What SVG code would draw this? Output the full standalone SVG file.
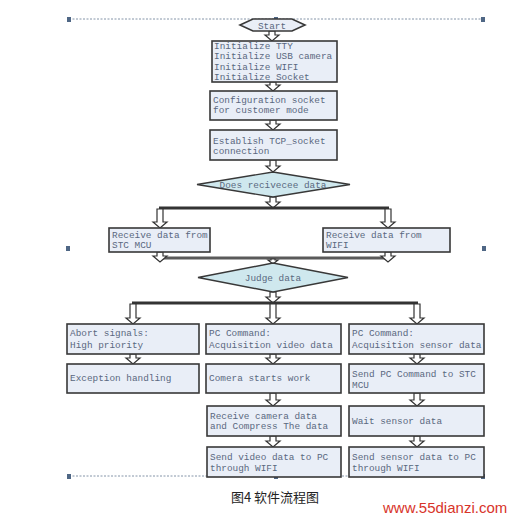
<svg xmlns="http://www.w3.org/2000/svg" width="518" height="519" viewBox="0 0 518 519">
<style>
.frame{stroke:#8494a8;stroke-width:1;stroke-dasharray:2,1.5;fill:none}
.hd{fill:#4f6785}
.box{fill:#e9eef7;stroke:#383838;stroke-width:1.6}
.dia{fill:#cfe8ee;stroke:#383838;stroke-width:1.4}
.t{font-family:"Liberation Mono","DejaVu Sans Mono",monospace;font-size:9.4px;fill:#5a6880}
.tc{font-family:"Liberation Mono","DejaVu Sans Mono",monospace;font-size:9.4px;fill:#5a6880;text-anchor:middle}
.ha{fill:#fff;stroke:#333;stroke-width:1.2}
.bar{stroke:#333;stroke-width:3;fill:none}
.bar2{stroke:#5a5a5a;stroke-width:3;fill:none}
.cap{font-family:"Noto Sans CJK SC","Liberation Sans",sans-serif;font-size:13px;fill:#222;text-anchor:middle}
.wm{font-family:"Liberation Sans",Arial,sans-serif;font-size:15px;fill:#d8342a}
</style>
<rect width="518" height="519" fill="#fff"/>
<g id="frame">
<line class="frame" x1="69" y1="19" x2="484" y2="19"/>
<line class="frame" x1="69" y1="476" x2="484" y2="476"/>
<rect class="hd" x="67" y="17" width="4" height="5"/>
<rect class="hd" x="274" y="17" width="4" height="5"/>
<rect class="hd" x="481" y="17" width="4" height="5"/>
<rect class="hd" x="66" y="246" width="4" height="5"/>
<rect class="hd" x="482" y="246" width="4" height="5"/>
<rect class="hd" x="67" y="474" width="4" height="5"/>
<rect class="hd" x="274" y="474" width="4" height="5"/>
<rect class="hd" x="481" y="474" width="4" height="5"/>
</g>
<g id="connectors">
<path class="ha" d="M269,31 L275,31 L275,35 L279,35 L272,41 L265,35 L269,35 Z"/>
<path class="ha" d="M270,82 L276,82 L276,85 L280,85 L273,91 L266,85 L270,85 Z"/>
<path class="ha" d="M270,120 L276,120 L276,124 L280,124 L273,130 L266,124 L270,124 Z"/>
<path class="ha" d="M270,160 L276,160 L276,166 L280,166 L273,172 L266,166 L270,166 Z"/>
<path class="ha" d="M270,197 L276,197 L276,202 L280,202 L273,208 L266,202 L270,202 Z"/>
<path class="bar" d="M159,208 L389,208"/>
<path class="ha" d="M157,209 L163,209 L163,222 L167,222 L160,228 L153,222 L157,222 Z"/>
<path class="ha" d="M385,209 L391,209 L391,222 L395,222 L388,228 L381,222 L385,222 Z"/>
<path class="bar2" d="M159,258 L389,258"/>
<path class="ha" d="M157,252 L163,252 L163,256 L167,256 L160,262 L153,256 L157,256 Z"/>
<path class="ha" d="M385,252 L391,252 L391,256 L395,256 L388,262 L381,256 L385,256 Z"/>
<path class="ha" d="M271,259 L275,259 L275,260 L278,260 L273,264 L268,260 L271,260 Z"/>
<path class="ha" d="M270,292 L276,292 L276,297 L280,297 L273,303 L266,297 L270,297 Z"/>
<path class="bar" d="M132,303 L418,303"/>
<path class="ha" d="M130,304 L136,304 L136,318 L140,318 L133,324 L126,318 L130,318 Z"/>
<path class="ha" d="M270,304 L276,304 L276,318 L280,318 L273,324 L266,318 L270,318 Z"/>
<path class="ha" d="M414,304 L420,304 L420,318 L424,318 L417,324 L410,318 L414,318 Z"/>
<path class="ha" d="M130,354 L136,354 L136,358 L140,358 L133,364 L126,358 L130,358 Z"/>
<path class="ha" d="M270,354 L276,354 L276,358 L280,358 L273,364 L266,358 L270,358 Z"/>
<path class="ha" d="M414,354 L420,354 L420,358 L424,358 L417,364 L410,358 L414,358 Z"/>
<path class="ha" d="M270,393 L276,393 L276,400 L280,400 L273,406 L266,400 L270,400 Z"/>
<path class="ha" d="M414,393 L420,393 L420,400 L424,400 L417,406 L410,400 L414,400 Z"/>
<path class="ha" d="M270,436 L276,436 L276,441 L280,441 L273,447 L266,441 L270,441 Z"/>
<path class="ha" d="M414,436 L420,436 L420,441 L424,441 L417,447 L410,441 L414,441 Z"/>
</g>
<g id="start">
<polygon class="box" points="240,25 253,19 292,19 305,25 292,31 253,31"/>
<text class="tc" x="272" y="28.5">Start</text>
</g>
<g id="init">
<rect class="box" x="212" y="41" width="125" height="41"/>
<text class="t" x="214" y="48.5">Initialize TTY</text>
<text class="t" x="214" y="59">Initialize USB camera</text>
<text class="t" x="214" y="69.5">Initialize WIFI</text>
<text class="t" x="214" y="80">Initialize Socket</text>
</g>
<g id="config">
<rect class="box" x="210" y="91" width="127" height="29"/>
<text class="t" x="213" y="102.5">Configuration socket</text>
<text class="t" x="213" y="113">for customer mode</text>
</g>
<g id="establish">
<rect class="box" x="210" y="130" width="127" height="30"/>
<text class="t" x="213" y="143.5">Establish TCP_socket</text>
<text class="t" x="213" y="154">connection</text>
</g>
<g id="does">
<polygon class="dia" points="197,184.5 273,172 350,184.5 273,197"/>
<text class="tc" x="273" y="187.5">Does recivecee data</text>
</g>
<g id="stc">
<rect class="box" x="109" y="228" width="101" height="24"/>
<text class="t" x="112" y="237.5">Receive data from</text>
<text class="t" x="112" y="248">STC MCU</text>
</g>
<g id="wifi">
<rect class="box" x="323" y="228" width="127" height="24"/>
<text class="t" x="326" y="237.5">Receive data from</text>
<text class="t" x="326" y="248">WIFI</text>
</g>
<g id="judge">
<polygon class="dia" points="198,277.5 273,263 348,277.5 273,292"/>
<text class="tc" x="273" y="281">Judge data</text>
</g>
<g id="abort">
<rect class="box" x="67" y="324" width="132" height="30"/>
<text class="t" x="70" y="336">Abort signals:</text>
<text class="t" x="70" y="347.5">High priority</text>
</g>
<g id="video">
<rect class="box" x="206" y="324" width="135" height="30"/>
<text class="t" x="209" y="336">PC Command:</text>
<text class="t" x="209" y="347.5">Acquisition video data</text>
</g>
<g id="sensor">
<rect class="box" x="349" y="324" width="135" height="30"/>
<text class="t" x="352" y="336">PC Command:</text>
<text class="t" x="352" y="347.5">Acquisition sensor data</text>
</g>
<g id="exception">
<rect class="box" x="67" y="364" width="132" height="29"/>
<text class="t" x="70" y="380.5">Exception handling</text>
</g>
<g id="camera">
<rect class="box" x="206" y="364" width="135" height="29"/>
<text class="t" x="209" y="381">Comera starts work</text>
</g>
<g id="sendcmd">
<rect class="box" x="349" y="364" width="135" height="29"/>
<text class="t" x="352" y="376.5">Send PC Command to STC</text>
<text class="t" x="352" y="387.5">MCU</text>
</g>
<g id="receivecam">
<rect class="box" x="207" y="406" width="134" height="30"/>
<text class="t" x="210" y="418.5">Receive camera data</text>
<text class="t" x="210" y="429">and Compress The data</text>
</g>
<g id="waitsensor">
<rect class="box" x="349" y="406" width="135" height="30"/>
<text class="t" x="352" y="424">Wait sensor data</text>
</g>
<g id="sendvideo">
<rect class="box" x="207" y="447" width="134" height="30"/>
<text class="t" x="210" y="460">Send video data to PC</text>
<text class="t" x="210" y="471">through WIFI</text>
</g>
<g id="sendsensor">
<rect class="box" x="349" y="447" width="135" height="30"/>
<text class="t" x="352" y="460">Send sensor data to PC</text>
<text class="t" x="352" y="471">through WIFI</text>
</g>
<text class="cap" x="275" y="502">图4 软件流程图</text>
<text class="wm" x="383" y="513">www.55dianzi.com</text>
</svg>
